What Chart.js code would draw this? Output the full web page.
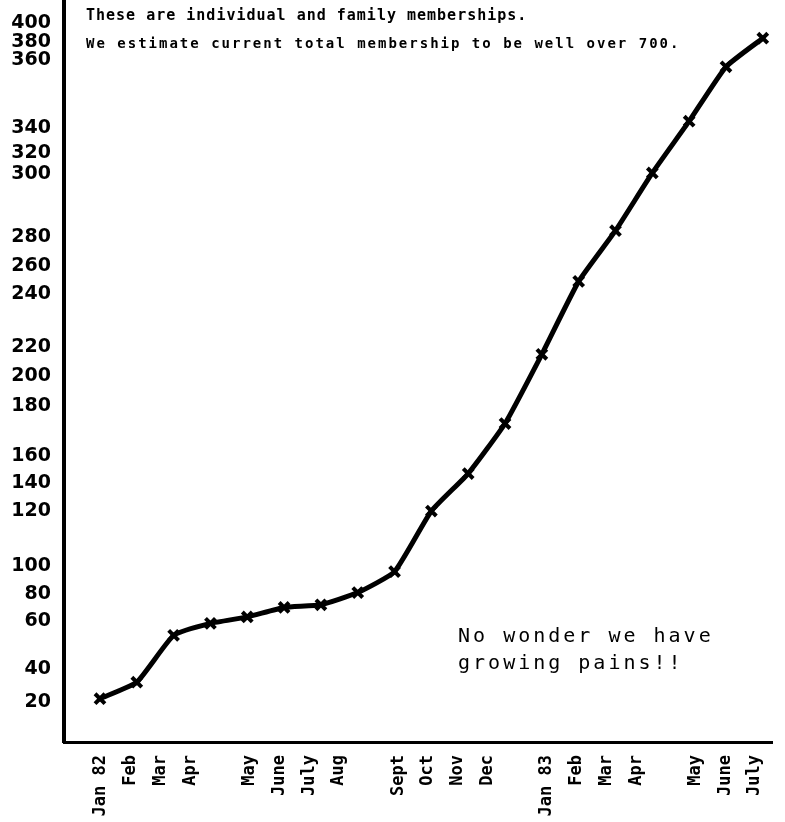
<!DOCTYPE html>
<html>
<head>
<meta charset="utf-8">
<script src="https://cdn.jsdelivr.net/npm/chart.js@4.4.1/dist/chart.umd.min.js"></script>
<style>
  body { margin: 0; background: #fff; }
</style>
</head>
<body>
<canvas id="chart" width="785" height="822"></canvas>
<script>
const months = ['Jan 82', 'Feb', 'Mar', 'Apr', 'May', 'June', 'July', 'Aug', 'Sept', 'Oct', 'Nov', 'Dec',
  'Jan 83', 'Feb', 'Mar', 'Apr', 'May', 'June', 'July'];
const members = [22, 32, 54, 59, 63, 70, 72, 81, 96, 120, 147, 173, 215, 249, 282, 301, 342, 358, 384];
const yTicks = [20, 40, 60, 80, 100, 120, 140, 160, 180, 200, 220, 240, 260, 280, 300, 320, 340, 360, 380, 400];
const notes = ['These are individual and family memberships.',
  'We estimate current total membership to be well over 700.'];
const quip = ['No wonder we have', 'growing pains!!'];

// the y labels were typed on uneven rows, so the scale follows them piece by piece
class TypedScale extends Chart.LinearScale {
  getPixelForValue(value) {
    const rows = this.options.rows; // [value, share of axis height from the bottom]
    let i = 1;
    while (i < rows.length - 1 && value > rows[i][0]) i++;
    const a = rows[i - 1], b = rows[i];
    return this.getPixelForDecimal(a[1] + (value - a[0]) * (b[1] - a[1]) / (b[0] - a[0]));
  }
}
TypedScale.id = 'typed';
TypedScale.defaults = {};
Chart.register(TypedScale);

const typedNotes = {
  id: 'typedNotes',
  afterDraw(chart) {
    const { ctx, chartArea: a } = chart;
    const w = a.right - a.left, h = a.bottom - a.top;
    ctx.save();
    ctx.fillStyle = '#000';
    ctx.textBaseline = 'middle';
    ctx.textAlign = 'left';
    ctx.font = 'bold 15px "DejaVu Sans Mono"';
    ctx.letterSpacing = '1px';
    ctx.fillText(notes[0], a.left + 22, a.top + 16);
    ctx.font = 'bold 14px "DejaVu Sans Mono"';
    ctx.letterSpacing = '2px';
    ctx.fillText(notes[1], a.left + 22, a.top + 44);
    ctx.font = '20px "DejaVu Sans Mono"';
    ctx.letterSpacing = '3px';
    ctx.fillText(quip[0], a.left + w * 0.5565, a.top + h * 0.8585);
    ctx.fillText(quip[1], a.left + w * 0.5565, a.top + h * 0.895);
    ctx.restore();
  }
};

new Chart(document.getElementById('chart'), {
  type: 'line',
  plugins: [typedNotes],
  data: {
    datasets: [{
      data: members.map((v, i) => ({ x: i, y: v })),
      xAxisID: 'x',
      yAxisID: 'y',
      borderColor: '#000',
      borderWidth: 5,
      borderCapStyle: 'round',
      borderJoinStyle: 'round',
      tension: 0.15,
      pointStyle: 'crossRot',
      pointRadius: 7,
      pointBorderWidth: 4,
      pointBorderColor: '#000',
      clip: false
    }]
  },
  options: {
    responsive: false,
    animation: false,
    events: [],
    layout: { autoPadding: false, padding: { top: 0, left: 0, right: 13, bottom: 0 } },
    plugins: {
      legend: { display: false },
      tooltip: { enabled: false }
    },
    scales: {
      x: {
        type: 'linear',
        display: false,
        min: -0.977,
        max: 18.25
      },
      xm: {
        type: 'linear',
        position: 'bottom',
        min: -1.245,
        max: 22.57,
        afterBuildTicks: (s) => { s.ticks = months.map((m, i) => ({ value: i + Math.floor(i / 4) })); },
        afterFit: (s) => { s.height = 80; s.paddingLeft = 0; s.paddingRight = 0; },
        grid: { display: false, drawTicks: false },
        border: { display: true, color: '#000', width: 3 },
        ticks: {
          autoSkip: false,
          minRotation: 90,
          maxRotation: 90,
          padding: 13,
          color: '#000',
          font: { family: '"DejaVu Sans Mono"', size: 17, weight: 'bold' },
          callback: (v, i) => months[i]
        }
      },
      y: {
        type: 'typed',
        min: -4,
        max: 424,
        rows: [[20, 0.0539], [40, 0.0984], [60, 0.1631], [80, 0.1995], [100, 0.2372],
          [120, 0.3113], [140, 0.3491], [160, 0.3854], [180, 0.4528], [200, 0.4933],
          [220, 0.5323], [240, 0.6038], [260, 0.6415], [280, 0.6806], [300, 0.7655],
          [320, 0.7938], [340, 0.8275], [360, 0.9191], [380, 0.9434], [400, 0.9690]],
        afterBuildTicks: (s) => { s.ticks = yTicks.map(v => ({ value: v })); },
        afterFit: (s) => { s.width = 64; s.paddingTop = 0; s.paddingBottom = 0; },
        grid: { display: false, drawTicks: false },
        border: { display: true, color: '#000', width: 4 },
        ticks: {
          autoSkip: false,
          padding: 13,
          color: '#000',
          font: { family: '"DejaVu Sans"', size: 19, weight: 'bold' }
        }
      }
    }
  }
});
</script>
</body>
</html>
